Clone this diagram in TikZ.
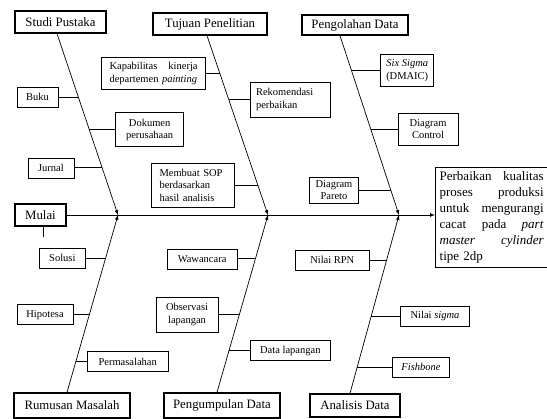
\documentclass[tikz,border=0pt]{standalone}
\usepackage{fontspec}
\setmainfont{Liberation Serif}
\usetikzlibrary{arrows}
\usetikzlibrary{positioning}

\begin{document}
\begin{tikzpicture}
      [x=1pt,y=-1pt,
      head/.style={draw,line width=1.3pt,inner sep=1pt,font=\fontsize{12.8}{15}\selectfont},
      item/.style={draw,line width=.6pt,inner sep=2pt,align=center,minimum height=20pt,
                   font=\fontsize{10.5}{12.5}\selectfont},
      bone/.style={line width=.7pt,-latex},
      twig/.style={line width=.7pt}]
\useasboundingbox (0,0) rectangle (547,419);

% heads
\node[head,minimum width=91pt,minimum height=22pt] (studi) at (60.5,22) {Studi Pustaka};
\node[head,minimum width=114pt,minimum height=22pt] (tujuan) at (210,24) {Tujuan Penelitian};
\node[head,minimum width=106pt,minimum height=20pt] (olah) at (355,25) {Pengolahan Data};
\node[head,minimum width=116pt,minimum height=25pt] (rumusan) at (72,405.5) {Rumusan Masalah};
\node[head,minimum width=116pt,minimum height=25pt] (kumpul) at (222,405.5) {Pengumpulan Data};
\node[head,minimum width=90pt,minimum height=23pt] (analisis) at (355,405.5) {Analisis Data};
\node[head,minimum width=51pt,minimum height=22pt] (mulai) at (40.5,215) {Mulai};
\node[head,anchor=north west,text width=104pt,inner sep=4pt,align=left,
      font=\fontsize{13}{16}\selectfont] (hasil) at (435,167)
   {Perbaikan\hfill kualitas\\ proses\hfill produksi\\ untuk\hfill mengurangi\\
    cacat\hfill pada\hfill \textit{part}\\ \textit{master}\hfill \textit{cylinder}\\ tipe 2dp};

% spine
\coordinate (j1) at (118,215);
\coordinate (j2) at (268,215);
\coordinate (j3) at (399,215);
\draw[bone] (mulai) -- (mulai.east -| hasil.west);
\draw[twig] ([xshift=2.5pt]mulai.south) -- ++(0,10);

% bones
\draw[bone] ([xshift=-3.5pt]studi.south) -- coordinate[pos=.35] (s1) coordinate[pos=.53] (s2)
   coordinate[pos=.74] (s3) (j1);
\draw[bone] ([xshift=-3pt]tujuan.south) -- coordinate[pos=.211] (t1) coordinate[pos=.356] (t2)
   coordinate[pos=.833] (t3) (j2);
\draw[bone] ([xshift=-15pt]olah.south) -- coordinate[pos=.194] (o1) coordinate[pos=.522] (o2)
   coordinate[pos=.861] (o3) (j3);
\draw[bone] ([xshift=-5pt]rumusan.north) -- coordinate[pos=.758] (r1) coordinate[pos=.438] (r2)
   coordinate[pos=.174] (r3) (j1);
\draw[bone] ([xshift=-5pt]kumpul.north) -- coordinate[pos=.753] (k1) coordinate[pos=.438] (k2)
   coordinate[pos=.236] (k3) (j2);
\draw[bone] ([xshift=-5pt]analisis.north) -- coordinate[pos=.747] (a1) coordinate[pos=.433] (a2)
   coordinate[pos=.146] (a3) (j3);

% causes
\node[item,minimum width=41pt,left=20pt of s1] (buku) {Buku};
\node[item,minimum width=68pt,minimum height=34pt,right=26pt of s2] (dokumen) {Dokumen\\perusahaan};
\node[item,minimum width=46pt,left=28pt of s3] (jurnal) {Jurnal};
\node[item,text width=88pt,inner xsep=8pt,minimum height=32pt,align=left,left=14pt of t1] (kapabilitas)
   {Kapabilitas\hfill kinerja\\ departemen \textit{painting}};
\node[item,text width=68pt,inner xsep=6pt,minimum height=35pt,align=left,right=21pt of t2] (rekomendasi)
   {Rekomendasi\\ perbaikan};
\node[item,text width=67pt,inner xsep=8pt,minimum height=44pt,align=left,left=23pt of t3] (sop)
   {Membuat SOP\\ berdasarkan\\ hasil analisis};
\node[item,minimum width=53pt,minimum height=32pt,right=29pt of o1] (sixsigma) {\textit{Six Sigma}\\(DMAIC)};
\node[item,minimum width=60pt,minimum height=32pt,right=27pt of o2] (control) {Diagram\\Control};
\node[item,minimum width=49pt,minimum height=26pt,left=32pt of o3] (pareto) {Diagram\\Pareto};
\node[item,minimum width=46pt,left=20pt of r1] (solusi) {Solusi};
\node[item,minimum width=56pt,left=16pt of r2] (hipotesa) {Hipotesa};
\node[item,minimum width=81pt,right=11pt of r3] (permasalahan) {Permasalahan};
\node[item,minimum width=70pt,left=18pt of k1] (wawancara) {Wawancara};
\node[item,minimum width=62pt,minimum height=35pt,left=21pt of k2] (observasi) {Observasi\\lapangan};
\node[item,minimum width=80pt,right=21pt of k3] (datalap) {Data lapangan};
\node[item,minimum width=74pt,left=17pt of a1] (rpn) {Nilai RPN};
\node[item,minimum width=69pt,right=29pt of a2] (sigma) {Nilai \textit{sigma}};
\node[item,minimum width=57pt,right=35pt of a3] (fishbone) {\textit{Fishbone}};

\foreach \c/\b in {buku/s1,dokumen/s2,jurnal/s3,kapabilitas/t1,rekomendasi/t2,sop/t3,
   sixsigma/o1,control/o2,pareto/o3,solusi/r1,hipotesa/r2,permasalahan/r3,
   wawancara/k1,observasi/k2,datalap/k3,rpn/a1,sigma/a2,fishbone/a3}
   \draw[twig] (\c) -- (\b);

\end{tikzpicture}
\end{document}
